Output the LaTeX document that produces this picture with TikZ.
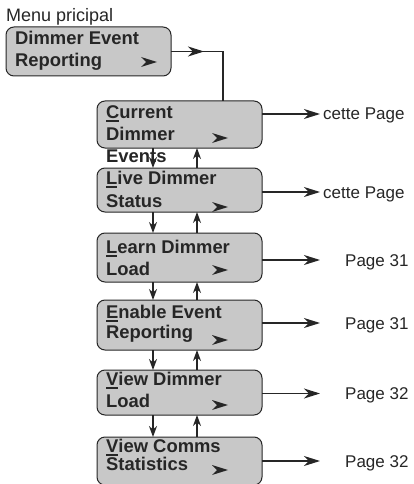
\documentclass[tikz,border=0pt]{standalone}
\usepackage{fontspec}
\setmainfont{Liberation Sans}
\usetikzlibrary{arrows.meta}
\definecolor{ink}{HTML}{262626}
\definecolor{boxgray}{HTML}{C8C8C8}
\newcommand\myul[1]{\leavevmode\setbox0\hbox{#1}\rlap{\rule[-4pt]{\wd0}{2.2pt}}\box0}
\begin{document}
\begin{tikzpicture}[x=1pt,y=-1pt,
  box/.style={draw=ink, fill=boxgray, line width=1pt, rounded corners=8pt,
    minimum width=165pt, inner sep=0pt, outer sep=0pt},
  lbl/.style={anchor=base west, inner sep=0pt, text=ink,
    font=\fontsize{18.4}{21}\selectfont\bfseries},
  plbl/.style={anchor=base west, inner sep=0pt, text=ink,
    font=\fontsize{17}{20}\selectfont},
  line/.style={draw=ink, line width=1.2pt},
  harr/.style={line, -{Stealth[length=16pt,width=10pt,inset=5pt]}},
  varr/.style={line, -{Stealth[length=11pt,width=8pt,inset=3.5pt]}},
  chev/.pic={\fill[ink] (0,0) -- (-16,-5) -- (-11,0) -- (-16,5) -- cycle;}
]
\useasboundingbox (0,0) rectangle (413,484);

% title
\node[plbl, font=\fontsize{18}{20}\selectfont] (title) at (6,21.5) {Menu pricipal};

% top box
\node[box, minimum height=49pt] (top) at (88.5,51.5) {};
\node[lbl] (t1) at (15,45) {Dimmer Event};
\node[lbl] (t2) at (15,67) {Reporting};
\pic at (157,62) {chev};

% menu boxes
\node[box, minimum height=47pt] (cur) at (179.5,124.5) {};
\node[box, minimum height=44pt] (live) at (179.5,190) {};
\node[box, minimum height=49pt] (learn) at (179.5,257.5) {};
\node[box, minimum height=50pt] (enable) at (179.5,325) {};
\node[box, minimum height=45pt] (viewd) at (179.5,392.5) {};
\node[box, minimum height=48pt] (viewc) at (179.5,461) {};

% texts
\node[lbl] (c1) at (106,118) {\myul{C}urrent};
\node[lbl] (c2) at (106,140) {Dimmer};
\node[lbl] (c3) at (106,162.5) {Events};
\node[lbl] (l1) at (106,184) {\myul{L}ive Dimmer};
\node[lbl] (l2) at (106,207.5) {Status};
\node[lbl] (n1) at (106,253) {\myul{L}earn Dimmer};
\node[lbl] (n2) at (106,275) {Load};
\node[lbl] (e1) at (106,318) {\myul{E}nable Event};
\node[lbl] (e2) at (106,338) {Reporting};
\node[lbl] (d1) at (106,385) {\myul{V}iew Dimmer};
\node[lbl] (d2) at (106,407) {Load};
\node[lbl] (s1) at (106,452) {\myul{V}iew Comms};
\node[lbl] (s2) at (106,470) {Statistics};

% chevrons
\pic at (228,138) {chev};
\pic at (228,207) {chev};
\pic at (228,270) {chev};
\pic at (228,340) {chev};
\pic at (228,405) {chev};
\pic at (228,470) {chev};

% top connector
\coordinate (corner) at (223,51.5);
\draw[line] (top.east) -- (corner) -- (corner |- cur.north);
\draw[harr] (top.east) -- ([xshift=33pt]top.east);

% right arrows and labels
\node[plbl] (p1) at (323,120) {cette Page};
\node[plbl] (p2) at (323,198) {cette Page};
\node[plbl] (p3) at (345,266) {Page 31};
\node[plbl] (p4) at (345,329) {Page 31};
\node[plbl] (p5) at (345,399.5) {Page 32};
\node[plbl] (p6) at (345,467) {Page 32};
\coordinate (a1) at (262,114);
\coordinate (a2) at (262,192);
\coordinate (a3) at (262,260);
\coordinate (a4) at (262,323);
\coordinate (a5) at (262,393.5);
\coordinate (a6) at (262,461);
\draw[harr] (a1) -- ++(58,0);
\draw[harr] (a2) -- ++(58,0);
\draw[harr] (a3) -- ++(58,0);
\draw[harr] (a4) -- ++(58,0);
\draw[harr] (a5) -- ++(58,0);
\draw[harr] (a6) -- ++(58,0);

% vertical arrows
\foreach \u/\l in {cur/live, live/learn, learn/enable, enable/viewd, viewd/viewc} {
  \draw[varr] ([xshift=-26.5pt]\u.south) -- ([xshift=-26.5pt]\l.north);
  \draw[varr] ([xshift=17.5pt]\l.north) -- ([xshift=17.5pt]\u.south);
}
\end{tikzpicture}
\end{document}
